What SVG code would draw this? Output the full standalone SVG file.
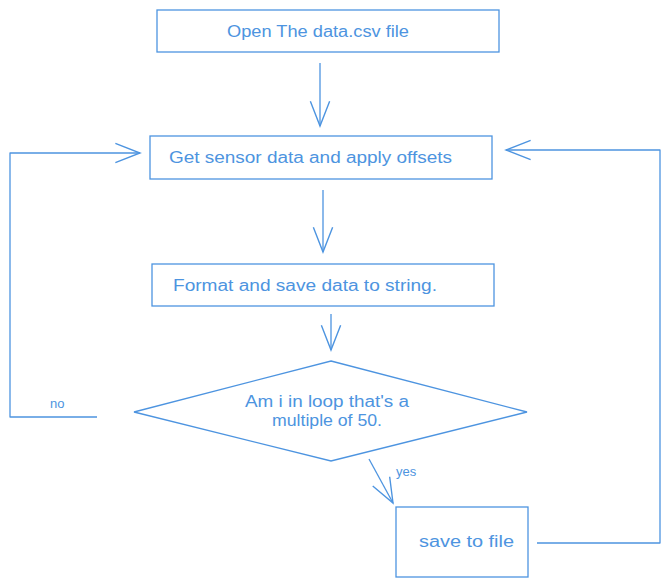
<svg xmlns="http://www.w3.org/2000/svg" width="670" height="587" viewBox="0 0 670 587">
  <style>
    .shape { fill: none; stroke: #4d94e0; stroke-width: 1.3; }
    .conn { fill: none; stroke: #4d94e0; stroke-width: 1.3; stroke-linejoin: round; }
    .label { fill: #4d94e0; font-family: "Liberation Sans", Arial, sans-serif; font-size: 16px; }
    .small { font-size: 13px; }
  </style>
  <defs>
    <marker id="arrow" markerUnits="userSpaceOnUse" markerWidth="30" markerHeight="30" viewBox="-25 -12 28 24" refX="0" refY="0" orient="auto" overflow="visible">
      <path d="M-23,-9 L0,0 L-23,9" fill="none" stroke="#4d94e0" stroke-width="1.3"/>
    </marker>
  </defs>
  <rect width="670" height="587" fill="#ffffff"/>

  <g id="connectors">
    <path class="conn" d="M320,63 L320,126" marker-end="url(#arrow)"/>
    <path class="conn" d="M323,190 L323,252" marker-end="url(#arrow)"/>
    <path class="conn" d="M331,314 L331,350" marker-end="url(#arrow)"/>
    <path class="conn" d="M369,459 L393,503" marker-end="url(#arrow)"/>
    <path class="conn" d="M537,543 L660,543 L660,150 L506,150" marker-end="url(#arrow)"/>
    <path class="conn" d="M97,417 L10,417 L10,153 L140,153" marker-end="url(#arrow)"/>
    <text class="label small" x="396" y="476">yes</text>
    <text class="label small" x="50" y="408">no</text>
  </g>

  <g id="open-file">
    <rect class="shape" x="157" y="10" width="342" height="42"/>
    <text class="label" x="318" y="37" text-anchor="middle" textLength="182" lengthAdjust="spacingAndGlyphs">Open The data.csv file</text>
  </g>

  <g id="get-sensor-data">
    <rect class="shape" x="150" y="136" width="342" height="43"/>
    <text class="label" x="169" y="163" textLength="283" lengthAdjust="spacingAndGlyphs">Get sensor data and apply offsets</text>
  </g>

  <g id="format-data">
    <rect class="shape" x="152" y="264" width="342" height="42"/>
    <text class="label" x="173" y="291" textLength="264" lengthAdjust="spacingAndGlyphs">Format and save data to string.</text>
  </g>

  <g id="loop-check">
    <polygon class="shape" points="331,361 527,412 331,461 134,412"/>
    <text class="label" x="327" y="407" text-anchor="middle" textLength="164" lengthAdjust="spacingAndGlyphs">Am i in loop that's a</text>
    <text class="label" x="327" y="426" text-anchor="middle" textLength="110" lengthAdjust="spacingAndGlyphs">multiple of 50.</text>
  </g>

  <g id="save-to-file">
    <rect class="shape" x="396" y="507" width="132" height="70"/>
    <text class="label" x="419" y="547" textLength="95" lengthAdjust="spacingAndGlyphs">save to file</text>
  </g>
</svg>
